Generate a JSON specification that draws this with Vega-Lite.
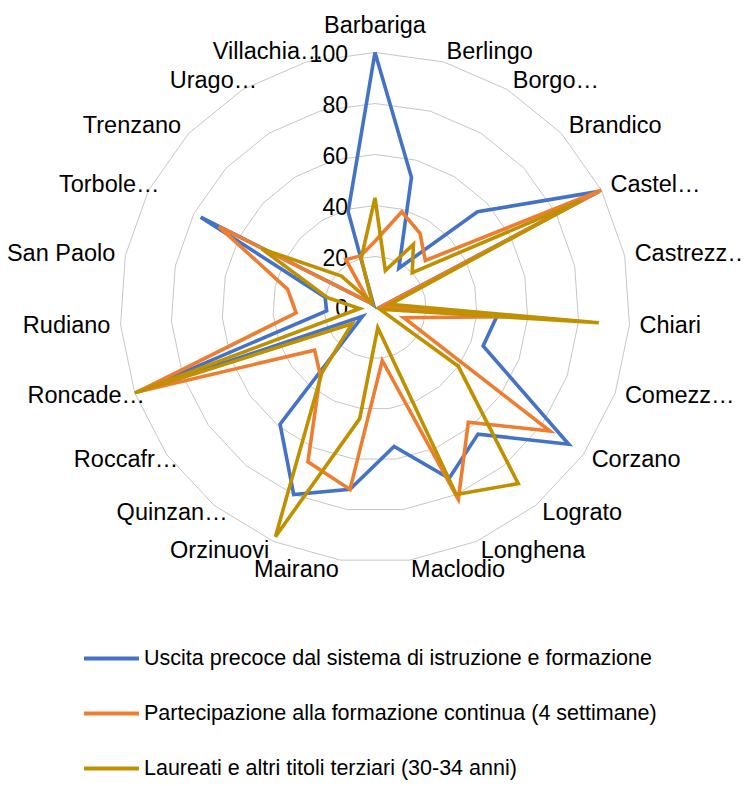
{
  "$schema": "https://vega.github.io/schema/vega-lite/v6.json",
  "width": 744,
  "height": 786,
  "autosize": {"type": "none"},
  "padding": 0,
  "background": "white",
  "config": {"view": {"stroke": null}, "font": "Liberation Sans"},
  "datasets": {
    "main": [
      {"comune": "Barbariga", "indicatore": "Uscita precoce dal sistema di istruzione e formazione", "valore": 100},
      {"comune": "Berlingo", "indicatore": "Uscita precoce dal sistema di istruzione e formazione", "valore": 53},
      {"comune": "Borgo…", "indicatore": "Uscita precoce dal sistema di istruzione e formazione", "valore": 18},
      {"comune": "Brandico", "indicatore": "Uscita precoce dal sistema di istruzione e formazione", "valore": 55},
      {"comune": "Castel…", "indicatore": "Uscita precoce dal sistema di istruzione e formazione", "valore": 99},
      {"comune": "Castrezz…", "indicatore": "Uscita precoce dal sistema di istruzione e formazione", "valore": 3},
      {"comune": "Chiari", "indicatore": "Uscita precoce dal sistema di istruzione e formazione", "valore": 48},
      {"comune": "Comezz…", "indicatore": "Uscita precoce dal sistema di istruzione e formazione", "valore": 45},
      {"comune": "Corzano", "indicatore": "Uscita precoce dal sistema di istruzione e formazione", "valore": 93},
      {"comune": "Lograto", "indicatore": "Uscita precoce dal sistema di istruzione e formazione", "valore": 64},
      {"comune": "Longhena", "indicatore": "Uscita precoce dal sistema di istruzione e formazione", "valore": 73},
      {"comune": "Maclodio", "indicatore": "Uscita precoce dal sistema di istruzione e formazione", "valore": 55},
      {"comune": "Mairano", "indicatore": "Uscita precoce dal sistema di istruzione e formazione", "valore": 72},
      {"comune": "Orzinuovi", "indicatore": "Uscita precoce dal sistema di istruzione e formazione", "valore": 80},
      {"comune": "Quinzan…", "indicatore": "Uscita precoce dal sistema di istruzione e formazione", "valore": 59},
      {"comune": "Roccafr…", "indicatore": "Uscita precoce dal sistema di istruzione e formazione", "valore": 6},
      {"comune": "Roncade…", "indicatore": "Uscita precoce dal sistema di istruzione e formazione", "valore": 99},
      {"comune": "Rudiano", "indicatore": "Uscita precoce dal sistema di istruzione e formazione", "valore": 19},
      {"comune": "San Paolo", "indicatore": "Uscita precoce dal sistema di istruzione e formazione", "valore": 20},
      {"comune": "Torbole…", "indicatore": "Uscita precoce dal sistema di istruzione e formazione", "valore": 77},
      {"comune": "Trenzano", "indicatore": "Uscita precoce dal sistema di istruzione e formazione", "valore": 3},
      {"comune": "Urago…", "indicatore": "Uscita precoce dal sistema di istruzione e formazione", "valore": 1},
      {"comune": "Villachia…", "indicatore": "Uscita precoce dal sistema di istruzione e formazione", "valore": 39},
      {"comune": "Barbariga", "indicatore": "Partecipazione alla formazione continua (4 settimane)", "valore": 26},
      {"comune": "Berlingo", "indicatore": "Partecipazione alla formazione continua (4 settimane)", "valore": 39},
      {"comune": "Borgo…", "indicatore": "Partecipazione alla formazione continua (4 settimane)", "valore": 34},
      {"comune": "Brandico", "indicatore": "Partecipazione alla formazione continua (4 settimane)", "valore": 27},
      {"comune": "Castel…", "indicatore": "Partecipazione alla formazione continua (4 settimane)", "valore": 100},
      {"comune": "Castrezz…", "indicatore": "Partecipazione alla formazione continua (4 settimane)", "valore": 3},
      {"comune": "Chiari", "indicatore": "Partecipazione alla formazione continua (4 settimane)", "valore": 53},
      {"comune": "Comezz…", "indicatore": "Partecipazione alla formazione continua (4 settimane)", "valore": 12},
      {"comune": "Corzano", "indicatore": "Partecipazione alla formazione continua (4 settimane)", "valore": 84},
      {"comune": "Lograto", "indicatore": "Partecipazione alla formazione continua (4 settimane)", "valore": 58},
      {"comune": "Longhena", "indicatore": "Partecipazione alla formazione continua (4 settimane)", "valore": 82},
      {"comune": "Maclodio", "indicatore": "Partecipazione alla formazione continua (4 settimane)", "valore": 21},
      {"comune": "Mairano", "indicatore": "Partecipazione alla formazione continua (4 settimane)", "valore": 72},
      {"comune": "Orzinuovi", "indicatore": "Partecipazione alla formazione continua (4 settimane)", "valore": 66},
      {"comune": "Quinzan…", "indicatore": "Partecipazione alla formazione continua (4 settimane)", "valore": 34},
      {"comune": "Roccafr…", "indicatore": "Partecipazione alla formazione continua (4 settimane)", "valore": 29},
      {"comune": "Roncade…", "indicatore": "Partecipazione alla formazione continua (4 settimane)", "valore": 99},
      {"comune": "Rudiano", "indicatore": "Partecipazione alla formazione continua (4 settimane)", "valore": 31},
      {"comune": "San Paolo", "indicatore": "Partecipazione alla formazione continua (4 settimane)", "valore": 35},
      {"comune": "Torbole…", "indicatore": "Partecipazione alla formazione continua (4 settimane)", "valore": 69},
      {"comune": "Trenzano", "indicatore": "Partecipazione alla formazione continua (4 settimane)", "valore": 3},
      {"comune": "Urago…", "indicatore": "Partecipazione alla formazione continua (4 settimane)", "valore": 22},
      {"comune": "Villachia…", "indicatore": "Partecipazione alla formazione continua (4 settimane)", "valore": 21},
      {"comune": "Barbariga", "indicatore": "Laureati e altri titoli terziari (30-34 anni)", "valore": 43},
      {"comune": "Berlingo", "indicatore": "Laureati e altri titoli terziari (30-34 anni)", "valore": 15},
      {"comune": "Borgo…", "indicatore": "Laureati e altri titoli terziari (30-34 anni)", "valore": 29},
      {"comune": "Brandico", "indicatore": "Laureati e altri titoli terziari (30-34 anni)", "valore": 20},
      {"comune": "Castel…", "indicatore": "Laureati e altri titoli terziari (30-34 anni)", "valore": 91},
      {"comune": "Castrezz…", "indicatore": "Laureati e altri titoli terziari (30-34 anni)", "valore": 6},
      {"comune": "Chiari", "indicatore": "Laureati e altri titoli terziari (30-34 anni)", "valore": 88},
      {"comune": "Comezz…", "indicatore": "Laureati e altri titoli terziari (30-34 anni)", "valore": 2},
      {"comune": "Corzano", "indicatore": "Laureati e altri titoli terziari (30-34 anni)", "valore": 40},
      {"comune": "Lograto", "indicatore": "Laureati e altri titoli terziari (30-34 anni)", "valore": 89},
      {"comune": "Longhena", "indicatore": "Laureati e altri titoli terziari (30-34 anni)", "valore": 80},
      {"comune": "Maclodio", "indicatore": "Laureati e altri titoli terziari (30-34 anni)", "valore": 8},
      {"comune": "Mairano", "indicatore": "Laureati e altri titoli terziari (30-34 anni)", "valore": 44},
      {"comune": "Orzinuovi", "indicatore": "Laureati e altri titoli terziari (30-34 anni)", "valore": 98},
      {"comune": "Quinzan…", "indicatore": "Laureati e altri titoli terziari (30-34 anni)", "valore": 33},
      {"comune": "Roccafr…", "indicatore": "Laureati e altri titoli terziari (30-34 anni)", "valore": 11},
      {"comune": "Roncade…", "indicatore": "Laureati e altri titoli terziari (30-34 anni)", "valore": 100},
      {"comune": "Rudiano", "indicatore": "Laureati e altri titoli terziari (30-34 anni)", "valore": 6},
      {"comune": "San Paolo", "indicatore": "Laureati e altri titoli terziari (30-34 anni)", "valore": 19},
      {"comune": "Torbole…", "indicatore": "Laureati e altri titoli terziari (30-34 anni)", "valore": 50},
      {"comune": "Trenzano", "indicatore": "Laureati e altri titoli terziari (30-34 anni)", "valore": 18},
      {"comune": "Urago…", "indicatore": "Laureati e altri titoli terziari (30-34 anni)", "valore": 2},
      {"comune": "Villachia…", "indicatore": "Laureati e altri titoli terziari (30-34 anni)", "valore": 20}
    ],
    "ticks": [{"t": 0}, {"t": 20}, {"t": 40}, {"t": 60}, {"t": 80}, {"t": 100}]
  },
  "layer": [
    {
      "data": {"name": "main"},
      "transform": [
        {"filter": "datum.indicatore === 'Uscita precoce dal sistema di istruzione e formazione'"},
        {"window": [{"op": "row_number", "as": "idx"}]},
        {"calculate": "[20, 40, 60, 80, 100]", "as": "lev"},
        {"flatten": ["lev"]},
        {"calculate": "(datum.idx - 1) * 2 * PI / 23", "as": "th"},
        {"calculate": "datum.lev * sin(datum.th)", "as": "gx"},
        {"calculate": "datum.lev * cos(datum.th)", "as": "gy"}
      ],
      "mark": {"type": "line", "interpolate": "linear-closed", "stroke": "#c6c6c6", "strokeWidth": 1},
      "encoding": {
        "x": {"field": "gx", "type": "quantitative", "scale": {"domain": [-147.06, 144.71], "nice": false, "zero": false}, "axis": null},
        "y": {"field": "gy", "type": "quantitative", "scale": {"domain": [-187.65, 120.59], "nice": false, "zero": false}, "axis": null},
        "detail": {"field": "lev", "type": "nominal"},
        "order": {"field": "idx", "type": "quantitative"}
      }
    },
    {
      "data": {"name": "ticks"},
      "mark": {"type": "text", "align": "right", "baseline": "middle", "dx": -27, "dy": 2, "fontSize": 23, "color": "#000000"},
      "encoding": {
        "x": {"datum": 0, "type": "quantitative"},
        "y": {"field": "t", "type": "quantitative"},
        "text": {"field": "t", "type": "quantitative"}
      }
    },
    {
      "data": {"name": "main"},
      "transform": [
        {"window": [{"op": "row_number", "as": "idx"}], "groupby": ["indicatore"]},
        {"calculate": "(datum.idx - 1) * 2 * PI / 23", "as": "th"},
        {"calculate": "datum.valore * sin(datum.th)", "as": "px"},
        {"calculate": "datum.valore * cos(datum.th)", "as": "py"}
      ],
      "mark": {"type": "line", "interpolate": "linear-closed", "strokeWidth": 3.6},
      "encoding": {
        "x": {"field": "px", "type": "quantitative"},
        "y": {"field": "py", "type": "quantitative"},
        "order": {"field": "idx", "type": "quantitative"},
        "color": {
          "field": "indicatore",
          "type": "nominal",
          "scale": {
            "domain": ["Uscita precoce dal sistema di istruzione e formazione", "Partecipazione alla formazione continua (4 settimane)", "Laureati e altri titoli terziari (30-34 anni)"],
            "range": ["#4472C4", "#ED7D31", "#BF9000"]
          },
          "legend": {
            "orient": "none",
            "legendX": 82,
            "legendY": 629,
            "direction": "vertical",
            "title": null,
            "padding": 0,
            "symbolType": "stroke",
            "symbolSize": 3025,
            "symbolStrokeWidth": 4,
            "labelFont": "Liberation Sans",
            "labelFontSize": 21.5,
            "labelColor": "#000000",
            "labelOffset": 3,
            "labelLimit": 700,
            "rowPadding": 15
          }
        }
      }
    },
    {
      "data": {"name": "main"},
      "transform": [
        {"filter": "datum.indicatore === 'Uscita precoce dal sistema di istruzione e formazione'"},
        {"window": [{"op": "row_number", "as": "idx"}]},
        {"filter": "datum.idx === 1"},
        {"calculate": "(datum.idx - 1) * 2 * PI / 23", "as": "th"},
        {"calculate": "104 * sin(datum.th)", "as": "lx"},
        {"calculate": "104 * cos(datum.th)", "as": "ly"}
      ],
      "mark": {"type": "text", "align": "center", "baseline": "middle", "dy": -16, "fontSize": 23.5, "color": "#000000"},
      "encoding": {
        "x": {"field": "lx", "type": "quantitative"},
        "y": {"field": "ly", "type": "quantitative"},
        "text": {"field": "comune"}
      }
    },
    {
      "data": {"name": "main"},
      "transform": [
        {"filter": "datum.indicatore === 'Uscita precoce dal sistema di istruzione e formazione'"},
        {"window": [{"op": "row_number", "as": "idx"}]},
        {"filter": "datum.idx >= 2 && datum.idx <= 12"},
        {"calculate": "(datum.idx - 1) * 2 * PI / 23", "as": "th"},
        {"calculate": "104 * sin(datum.th)", "as": "lx"},
        {"calculate": "104 * cos(datum.th)", "as": "ly"}
      ],
      "mark": {"type": "text", "align": "left", "baseline": "middle", "fontSize": 23.5, "color": "#000000"},
      "encoding": {
        "x": {"field": "lx", "type": "quantitative"},
        "y": {"field": "ly", "type": "quantitative"},
        "text": {"field": "comune"}
      }
    },
    {
      "data": {"name": "main"},
      "transform": [
        {"filter": "datum.indicatore === 'Uscita precoce dal sistema di istruzione e formazione'"},
        {"window": [{"op": "row_number", "as": "idx"}]},
        {"filter": "datum.idx >= 13 && indexof(datum.comune, '…') < 0"},
        {"calculate": "(datum.idx - 1) * 2 * PI / 23", "as": "th"},
        {"calculate": "104 * sin(datum.th)", "as": "lx"},
        {"calculate": "104 * cos(datum.th)", "as": "ly"}
      ],
      "mark": {"type": "text", "align": "right", "baseline": "middle", "fontSize": 23.5, "color": "#000000"},
      "encoding": {
        "x": {"field": "lx", "type": "quantitative"},
        "y": {"field": "ly", "type": "quantitative"},
        "text": {"field": "comune"}
      }
    },
    {
      "data": {"name": "main"},
      "transform": [
        {"filter": "datum.indicatore === 'Uscita precoce dal sistema di istruzione e formazione'"},
        {"window": [{"op": "row_number", "as": "idx"}]},
        {"filter": "datum.idx >= 13 && indexof(datum.comune, '…') >= 0"},
        {"calculate": "(datum.idx - 1) * 2 * PI / 23", "as": "th"},
        {"calculate": "104 * sin(datum.th)", "as": "lx"},
        {"calculate": "104 * cos(datum.th)", "as": "ly"}
      ],
      "mark": {"type": "text", "align": "right", "baseline": "middle", "dx": 20, "fontSize": 23.5, "color": "#000000"},
      "encoding": {
        "x": {"field": "lx", "type": "quantitative"},
        "y": {"field": "ly", "type": "quantitative"},
        "text": {"field": "comune"}
      }
    }
  ]
}
